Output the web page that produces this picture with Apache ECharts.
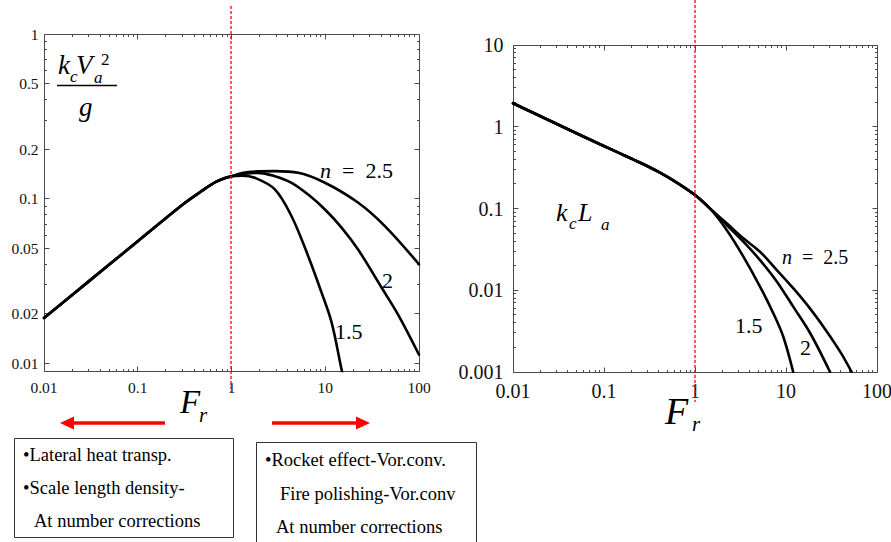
<!DOCTYPE html>
<html>
<head>
<meta charset="utf-8">
<script src="https://cdn.jsdelivr.net/npm/echarts@6/dist/echarts.min.js"></script>
<style>
  html, body { margin: 0; padding: 0; background: #fff; }
  #chart { width: 891px; height: 542px; }
</style>
</head>
<body>
<div id="chart"></div>
<script>
// Froude-number dependence of k_c*V_a^2/g (left) and k_c*L_a (right) for n = 1.5, 2, 2.5

const SERIF = 'Liberation Serif';

// ---- left panel: k_c V_a^2 / g ----
const velBaseF = [0.01, 0.03, 0.1, 0.3, 0.46, 0.69, 1];
const velBase  = [0.0189, 0.0315, 0.0552, 0.092, 0.1095, 0.127, 0.137];

const vel15F = [1.3, 1.77, 2.9, 4.37, 6.58, 9.14, 11.7, 15, 15.6];
const vel15  = [0.138, 0.134, 0.114, 0.0783, 0.0448, 0.0269, 0.0177, 0.0091, 0.0084];

const vel20F = [1.4, 1.92, 2.9, 4.37, 6.58, 9.93, 15, 22.5, 40, 60, 100];
const vel20  = [0.142, 0.1436, 0.137, 0.125, 0.106, 0.086, 0.0666, 0.049, 0.0288, 0.0197, 0.0113];

const vel25F = [1.5, 2.9, 5.15, 9.93, 22.5, 43.5, 100];
const vel25  = [0.145, 0.147, 0.1436, 0.125, 0.0945, 0.068, 0.040];

// ---- right panel: k_c L_a ----
const lenBaseF = [0.01, 0.0593, 0.138, 0.251, 0.398, 0.631, 1, 1.46];
const lenBase  = [1.94, 0.76, 0.492, 0.3625, 0.280, 0.2077, 0.146, 0.100];

const len15F = [2.23, 3.40, 5.18, 7.26, 9.34, 12.0];
const len15  = [0.0546, 0.0258, 0.0111, 0.00522, 0.0027, 0.001];

const len20F = [2.23, 3.40, 5.18, 7.88, 12.0, 18.4, 30.5];
const len20  = [0.0628, 0.0393, 0.0234, 0.0129, 0.0063, 0.0030, 0.001];

const len25F = [2.23, 3.40, 5.18, 7.88, 12.0, 18.4, 27.9, 39.8, 52.7];
const len25  = [0.0659, 0.0432, 0.0296, 0.0178, 0.0106, 0.00596, 0.00316, 0.00174, 0.001];

// ---- tick labels ----
const frTicks = [0.01, 0.1, 1, 10, 100];
const frTickLabels = ['0.01', '0.1', '1', '10', '100'];
const velTicks = [1, 0.5, 0.2, 0.1, 0.05, 0.02, 0.01];
const velTickLabels = ['1', '0.5', '0.2', '0.1', '0.05', '0.02', '0.01'];
const lenTicks = [10, 1, 0.1, 0.01, 0.001];
const lenTickLabels = ['10', '1', '0.1', '0.01', '0.001'];

const VEL_MIN = 0.009, VEL_MAX = 1;
const LEN_MIN = 0.001, LEN_MAX = 10;
const FR_MIN = 0.01, FR_MAX = 100;

function zip(fs, vs) { return fs.map((f, i) => [f, vs[i]]); }

// log-axis minor tick positions (2..9 within each decade) inside [lo, hi]
function logMinor(lo, hi, majors) {
  const out = [];
  for (let e = -4; e <= 2; e++) {
    for (let m = 1; m <= 9; m++) {
      const v = +(m * Math.pow(10, e)).toPrecision(6);
      if (v < lo * 1.0001 || v > hi * 0.9999) continue;
      if (majors.some(t => Math.abs(t - v) / v < 1e-6)) continue;
      out.push(v);
    }
  }
  return out;
}

const crisp = v => Math.round(v - 0.5) + 0.5;

// frame, inward ticks on all four sides and tick labels
function frameRenderer(cfg) {
  return function (params, api) {
    const cs = params.coordSys;
    const L = crisp(cs.x), T = crisp(cs.y);
    const R = crisp(cs.x + cs.width), B = crisp(cs.y + cs.height);
    const ch = [];
    const frameColor = '#4a4a4a';
    const seg = (x1, y1, x2, y2) => ch.push({
      type: 'line', silent: true,
      shape: { x1, y1, x2, y2 },
      style: { stroke: frameColor, lineWidth: 1 }
    });
    const xMinor = logMinor(FR_MIN, FR_MAX, cfg.xMajor);
    const yMinor = logMinor(cfg.yMin, cfg.yMax, cfg.yMajor);

    cfg.xMajor.forEach(v => {
      const px = crisp(api.coord([v, cfg.yMax])[0]);
      seg(px, B, px, B - 5); seg(px, T, px, T + 5);
    });
    xMinor.forEach(v => {
      const px = crisp(api.coord([v, cfg.yMax])[0]);
      seg(px, B, px, B - 2.5); seg(px, T, px, T + 2.5);
    });
    cfg.yMajor.forEach(v => {
      const py = crisp(api.coord([FR_MIN, v])[1]);
      seg(L, py, L + 5, py); seg(R, py, R - 5, py);
    });
    yMinor.forEach(v => {
      const py = crisp(api.coord([FR_MIN, v])[1]);
      seg(L, py, L + 2.5, py); seg(R, py, R - 2.5, py);
    });

    ch.push({
      type: 'rect', silent: true,
      shape: { x: L, y: T, width: R - L, height: B - T },
      style: { fill: null, stroke: frameColor, lineWidth: 1 }
    });

    cfg.xLabels.forEach((t, i) => {
      const px = api.coord([cfg.xMajor[i], cfg.yMax])[0];
      ch.push({
        type: 'text', silent: true,
        style: {
          text: t, x: px, y: B + cfg.xLabelGap,
          align: 'center', verticalAlign: 'middle',
          fontSize: cfg.labelSize, fontFamily: SERIF, fill: '#111'
        }
      });
    });
    cfg.yLabels.forEach((t, i) => {
      const py = api.coord([FR_MIN, cfg.yMajor[i]])[1];
      ch.push({
        type: 'text', silent: true,
        style: {
          text: t, x: L - cfg.yLabelGap, y: py,
          align: 'right', verticalAlign: 'middle',
          fontSize: cfg.labelSize, fontFamily: SERIF, fill: '#111'
        }
      });
    });

    return { type: 'group', children: ch };
  };
}

const curveStyle = { color: '#000', width: 2.6, cap: 'round', join: 'round' };
function curve(grid, pts) {
  return {
    type: 'line', xAxisIndex: grid, yAxisIndex: grid,
    data: pts, showSymbol: false, symbol: 'none',
    smooth: 0.35, clip: true, silent: true,
    lineStyle: curveStyle, z: 3
  };
}

const noAxis = {
  axisLine: { show: false }, axisTick: { show: false },
  axisLabel: { show: false }, splitLine: { show: false }
};

function txt(text, x, y, size, italic) {
  return {
    type: 'text', x, y, silent: true,
    style: {
      text, fontSize: size, fontFamily: SERIF,
      fontStyle: italic ? 'italic' : 'normal',
      fill: '#000', verticalAlign: 'middle', align: 'left'
    }
  };
}
function richTxt(text, x, y, size) {
  return {
    type: 'text', x, y, silent: true,
    style: {
      text, fontSize: size, fontFamily: SERIF, fill: '#000',
      verticalAlign: 'middle', align: 'left',
      rich: { i: { fontStyle: 'italic', fontSize: size, fontFamily: SERIF, fill: '#000' } }
    }
  };
}

const velBasePts = zip(velBaseF, velBase);
const lenBasePts = zip(lenBaseF, lenBase);

const annotations = [
  // k_c V_a^2 / g
  txt('k', 58, 65, 27, true),
  txt('c', 70, 76, 17, true),
  txt('V', 76, 65, 27, true),
  txt('a', 94, 77, 17, true),
  txt('2', 101, 59, 17, false),
  { type: 'line', silent: true, shape: { x1: 57, y1: 85.5, x2: 117, y2: 85.5 }, style: { stroke: '#000', lineWidth: 1.4 } },
  txt('g', 79, 107, 27, true),

  // k_c L_a
  txt('k', 556, 212, 26, true),
  txt('c', 569, 223, 17, true),
  txt('L', 578, 212, 26, true),
  txt('a', 601, 224, 17, true),

  // curve labels, left panel
  richTxt('{i|n}\u2002=\u20022.5', 320, 170, 22),
  txt('2', 382, 280, 22, false),
  txt('1.5', 335, 331, 22, false),
  // curve labels, right panel
  richTxt('{i|n}\u2002=\u20022.5', 782, 257, 20),
  txt('1.5', 735, 325, 22, false),
  txt('2', 800, 347, 22, false),

  // F_r axis titles
  txt('F', 180, 402, 33, true),
  txt('r', 199, 415, 21, true),
  txt('F', 665, 411, 38, true),
  txt('r', 692, 424, 21, true),

  // regime arrows
  { type: 'line', silent: true, shape: { x1: 165, y1: 423, x2: 72, y2: 423 }, style: { stroke: '#f00', lineWidth: 3.5 } },
  { type: 'polygon', silent: true, shape: { points: [[60, 423], [74, 416.5], [74, 429.5]] }, style: { fill: '#f00' } },
  { type: 'line', silent: true, shape: { x1: 272, y1: 423, x2: 358, y2: 423 }, style: { stroke: '#f00', lineWidth: 3.5 } },
  { type: 'polygon', silent: true, shape: { points: [[370, 423], [356, 416.5], [356, 429.5]] }, style: { fill: '#f00' } },

  // text boxes
  { type: 'rect', silent: true, shape: { x: 14.5, y: 438.5, width: 219, height: 99 }, style: { fill: null, stroke: '#333', lineWidth: 1 } },
  txt('\u2022Lateral heat transp.', 23, 455, 18.5, false),
  txt('\u2022Scale length density-', 23, 488, 18.5, false),
  txt('At number corrections', 34, 521, 18.5, false),

  { type: 'rect', silent: true, shape: { x: 256.5, y: 442.5, width: 220, height: 110 }, style: { fill: null, stroke: '#333', lineWidth: 1 } },
  txt('\u2022Rocket effect-Vor.conv.', 265, 460, 18.5, false),
  txt('Fire polishing-Vor.conv', 280, 494, 18.5, false),
  txt('At number corrections', 276, 527, 18.5, false)
];

const chart = echarts.init(document.getElementById('chart'), null, { renderer: 'svg' });

chart.setOption({
  animation: false,
  backgroundColor: '#fff',
  grid: [
    { left: 44, top: 34, width: 375, height: 337, show: false },
    { left: 513, top: 45, width: 364, height: 327, show: false }
  ],
  xAxis: [
    Object.assign({ type: 'log', logBase: 10, min: FR_MIN, max: FR_MAX, gridIndex: 0 }, noAxis),
    Object.assign({ type: 'log', logBase: 10, min: FR_MIN, max: FR_MAX, gridIndex: 1 }, noAxis)
  ],
  yAxis: [
    Object.assign({ type: 'log', logBase: 10, min: VEL_MIN, max: VEL_MAX, gridIndex: 0 }, noAxis),
    Object.assign({ type: 'log', logBase: 10, min: LEN_MIN, max: LEN_MAX, gridIndex: 1 }, noAxis)
  ],
  series: [
    {
      type: 'custom', xAxisIndex: 0, yAxisIndex: 0, clip: false, silent: true, z: 1,
      data: [[1, 0.1]],
      renderItem: frameRenderer({
        yMin: VEL_MIN, yMax: VEL_MAX,
        xMajor: frTicks, xLabels: frTickLabels,
        yMajor: velTicks, yLabels: velTickLabels,
        labelSize: 15.5, xLabelGap: 16, yLabelGap: 6
      })
    },
    {
      type: 'custom', xAxisIndex: 1, yAxisIndex: 1, clip: false, silent: true, z: 1,
      data: [[1, 0.1]],
      renderItem: frameRenderer({
        yMin: LEN_MIN, yMax: LEN_MAX,
        xMajor: frTicks, xLabels: frTickLabels,
        yMajor: lenTicks, yLabels: lenTickLabels,
        labelSize: 20, xLabelGap: 18, yLabelGap: 10
      })
    },
    curve(0, velBasePts.concat(zip(vel15F, vel15))),
    curve(0, velBasePts.concat(zip(vel20F, vel20))),
    curve(0, velBasePts.concat(zip(vel25F, vel25))),
    curve(1, lenBasePts.concat(zip(len15F, len15))),
    curve(1, lenBasePts.concat(zip(len20F, len20))),
    curve(1, lenBasePts.concat(zip(len25F, len25)))
  ],
  graphic: annotations
});

// red dashed markers at F_r = 1, placed through each panel's x scale
const xOneLeft = Math.round(chart.convertToPixel({ xAxisIndex: 0, yAxisIndex: 0 }, [1, 0.1])[0]);
const xOneRight = Math.round(chart.convertToPixel({ xAxisIndex: 1, yAxisIndex: 1 }, [1, 0.1])[0]);
const dashStyle = { stroke: '#ff0000', lineWidth: 1.3, lineDash: [3, 2], opacity: 1 };
chart.setOption({
  graphic: annotations.concat([
    { type: 'line', silent: true, z: 10, shape: { x1: xOneLeft, y1: 6, x2: xOneLeft, y2: 392 }, style: dashStyle },
    { type: 'line', silent: true, z: 10, shape: { x1: xOneRight, y1: 0, x2: xOneRight, y2: 402 }, style: dashStyle }
  ])
});
</script>
</body>
</html>
